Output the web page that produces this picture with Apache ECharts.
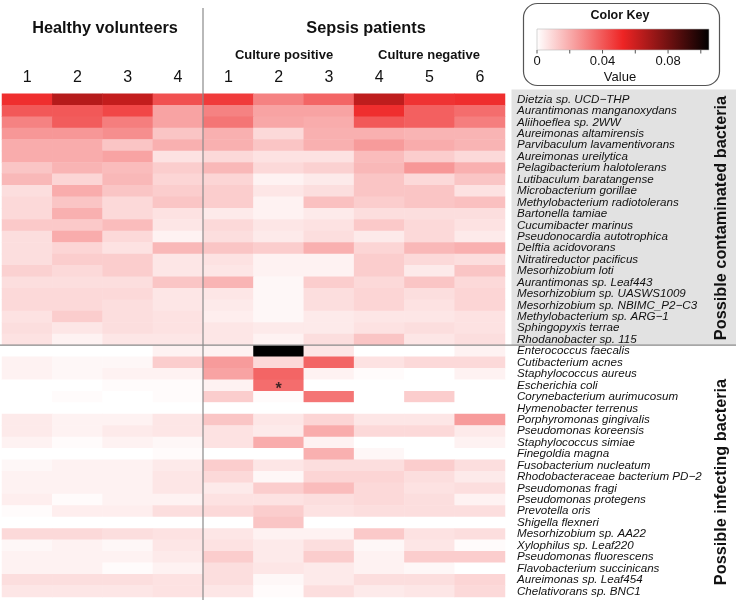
<!DOCTYPE html>
<html><head><meta charset="utf-8">
<script src="https://cdn.jsdelivr.net/npm/echarts@6/dist/echarts.min.js"></script>
<style>html,body{margin:0;padding:0;background:#fff}#c{width:736px;height:604px}</style>
</head><body><div id="c"></div>
<script>
var columns = ['HV1','HV2','HV3','HV4','S1','S2','S3','S4','S5','S6'];
var columnLabels = ['1','2','3','4','1','2','3','4','5','6'];
var contaminated = ['Dietzia sp. UCD\u2212THP','Aurantimonas manganoxydans','Aliihoeflea sp. 2WW','Aureimonas altamirensis','Parvibaculum lavamentivorans','Aureimonas ureilytica','Pelagibacterium halotolerans','Lutibaculum baratangense','Microbacterium gorillae','Methylobacterium radiotolerans','Bartonella tamiae','Cucumibacter marinus','Pseudonocardia autotrophica','Delftia acidovorans','Nitratireductor pacificus','Mesorhizobium loti','Aurantimonas sp. Leaf443','Mesorhizobium sp. UASWS1009','Mesorhizobium sp. NBIMC_P2\u2212C3','Methylobacterium sp. ARG\u22121','Sphingopyxis terrae','Rhodanobacter sp. 115'];
var infecting = ['Enterococcus faecalis','Cutibacterium acnes','Staphylococcus aureus','Escherichia coli','Corynebacterium aurimucosum','Hymenobacter terrenus','Porphyromonas gingivalis','Pseudomonas koreensis','Staphylococcus simiae','Finegoldia magna','Fusobacterium nucleatum','Rhodobacteraceae bacterium PD\u22122','Pseudomonas fragi','Pseudomonas protegens','Prevotella oris','Shigella flexneri','Mesorhizobium sp. AA22','Xylophilus sp. Leaf220','Pseudomonas fluorescens','Flavobacterium succinicans','Aureimonas sp. Leaf454','Chelativorans sp. BNC1'];
// values per row, columns HV1..HV4, S1..S6
var contaminatedValues = [
 [0.050,0.065,0.062,0.042,0.047,0.030,0.037,0.063,0.049,0.050],
 [0.040,0.040,0.044,0.022,0.030,0.022,0.022,0.050,0.038,0.035],
 [0.030,0.039,0.031,0.022,0.033,0.021,0.020,0.040,0.038,0.031],
 [0.025,0.025,0.027,0.014,0.019,0.009,0.019,0.019,0.018,0.018],
 [0.020,0.020,0.014,0.019,0.019,0.014,0.019,0.024,0.020,0.018],
 [0.020,0.020,0.022,0.007,0.009,0.007,0.007,0.016,0.012,0.009],
 [0.014,0.018,0.016,0.012,0.017,0.009,0.011,0.017,0.025,0.019],
 [0.017,0.010,0.017,0.010,0.010,0.003,0.005,0.014,0.009,0.014],
 [0.008,0.020,0.014,0.012,0.012,0.006,0.008,0.014,0.014,0.007],
 [0.009,0.014,0.009,0.014,0.012,0.003,0.015,0.012,0.014,0.015],
 [0.009,0.019,0.009,0.007,0.005,0.003,0.005,0.008,0.008,0.008],
 [0.013,0.013,0.016,0.006,0.009,0.006,0.007,0.013,0.009,0.007],
 [0.008,0.020,0.009,0.003,0.008,0.005,0.008,0.005,0.009,0.005],
 [0.008,0.010,0.007,0.017,0.014,0.012,0.019,0.010,0.017,0.019],
 [0.008,0.012,0.012,0.006,0.007,0.003,0.003,0.012,0.009,0.008],
 [0.011,0.009,0.012,0.006,0.006,0.003,0.003,0.012,0.005,0.014],
 [0.008,0.008,0.008,0.014,0.018,0.002,0.012,0.009,0.014,0.009],
 [0.009,0.009,0.009,0.006,0.006,0.002,0.008,0.010,0.008,0.010],
 [0.009,0.009,0.008,0.006,0.005,0.002,0.008,0.010,0.007,0.010],
 [0.007,0.012,0.008,0.007,0.004,0.002,0.005,0.006,0.006,0.007],
 [0.008,0.006,0.008,0.007,0.006,0.005,0.005,0.007,0.008,0.007],
 [0.007,0.003,0.006,0.006,0.006,0.003,0.008,0.014,0.006,0.008]
];
var infectingValues = [
 [0.000,0.000,0.000,0.003,0.003,0.105,0.006,0.000,0.000,0.003],
 [0.003,0.002,0.002,0.012,0.024,0.009,0.037,0.007,0.009,0.009],
 [0.003,0.002,0.003,0.003,0.022,0.037,0.003,0.001,0.000,0.003],
 [0.000,0.000,0.001,0.001,0.003,0.035,0.000,0.000,0.000,0.000],
 [0.000,0.001,0.000,0.001,0.012,0.001,0.033,0.000,0.012,0.000],
 [0.000,0.000,0.000,0.000,0.000,0.000,0.000,0.000,0.000,0.000],
 [0.005,0.003,0.003,0.006,0.014,0.006,0.010,0.006,0.006,0.024],
 [0.005,0.003,0.005,0.006,0.007,0.005,0.020,0.009,0.009,0.005],
 [0.003,0.001,0.003,0.002,0.007,0.020,0.003,0.000,0.000,0.003],
 [0.000,0.000,0.000,0.001,0.000,0.000,0.019,0.002,0.000,0.000],
 [0.002,0.003,0.003,0.005,0.012,0.006,0.008,0.008,0.012,0.008],
 [0.003,0.003,0.003,0.006,0.009,0.002,0.010,0.010,0.008,0.005],
 [0.003,0.003,0.003,0.006,0.005,0.012,0.016,0.009,0.007,0.008],
 [0.004,0.001,0.003,0.003,0.007,0.007,0.008,0.009,0.008,0.003],
 [0.001,0.004,0.004,0.008,0.009,0.012,0.007,0.008,0.008,0.008],
 [0.000,0.000,0.000,0.000,0.000,0.014,0.000,0.000,0.000,0.000],
 [0.009,0.009,0.008,0.007,0.006,0.003,0.003,0.013,0.007,0.008],
 [0.002,0.003,0.002,0.006,0.007,0.005,0.008,0.002,0.006,0.001],
 [0.003,0.003,0.003,0.005,0.012,0.005,0.012,0.003,0.012,0.012],
 [0.003,0.003,0.001,0.003,0.008,0.006,0.005,0.003,0.002,0.000],
 [0.008,0.008,0.008,0.007,0.008,0.002,0.005,0.008,0.008,0.010],
 [0.006,0.006,0.006,0.007,0.006,0.001,0.008,0.005,0.006,0.009]
];
var starCell = ['S2','Escherichia coli'];
var keyTicks = [0, 0.02, 0.04, 0.06, 0.08, 0.10];
var keyLabels = ['0','0.04','0.08'];
var valueMax = 0.105;

var rows = contaminated.concat(infecting);
var values = contaminatedValues.concat(infectingValues);
var data = [];
for (var r = 0; r < rows.length; r++) for (var c = 0; c < columns.length; c++) data.push([c, r, values[r][c]]);

var chart = echarts.init(document.getElementById('c'), null, {renderer:'canvas'});
var L = 2, R = 505, T = 93.8, B = 597;
var keyX0 = 537, keyX1 = 709;
function kx(v){ return keyX0 + (keyX1 - keyX0) * v / valueMax; }
var FONT = '"Liberation Sans", Arial, Helvetica, sans-serif';
var graphics = [
  {type:'rect', shape:{x:511.5, y:89.5, width:230, height:255.5}, style:{fill:'#e2e2e2'}, z:0},
  {type:'line', shape:{x1:0, y1:345.2, x2:736, y2:345.2}, style:{stroke:'#8a8a8a', lineWidth:1.2}, z:50},
  {type:'line', shape:{x1:203, y1:8, x2:203, y2:600}, style:{stroke:'#8a8a8a', lineWidth:1.2}, z:50},
  {type:'text', x:105, y:29, style:{text:'Healthy volunteers', font:'bold 16.3px '+FONT, fill:'#111', align:'center', verticalAlign:'middle'}},
  {type:'text', x:366, y:29, style:{text:'Sepsis patients', font:'bold 16.3px '+FONT, fill:'#111', align:'center', verticalAlign:'middle'}},
  {type:'text', x:284, y:55, style:{text:'Culture positive', font:'bold 13px '+FONT, fill:'#111', align:'center', verticalAlign:'middle'}},
  {type:'text', x:429, y:55, style:{text:'Culture negative', font:'bold 13px '+FONT, fill:'#111', align:'center', verticalAlign:'middle'}},
  {type:'text', x:722, y:218, rotation:Math.PI/2, style:{text:'Possible contaminated bacteria', font:'bold 16.3px '+FONT, fill:'#111', align:'center', verticalAlign:'middle'}},
  {type:'text', x:722, y:482, rotation:Math.PI/2, style:{text:'Possible infecting bacteria', font:'bold 16.3px '+FONT, fill:'#111', align:'center', verticalAlign:'middle'}},
  {type:'rect', shape:{x:523.5, y:3.5, width:196, height:82, r:14}, style:{fill:'#fff', stroke:'#555', lineWidth:1.2}},
  {type:'text', x:620, y:16, style:{text:'Color Key', font:'bold 12.5px '+FONT, fill:'#111', align:'center', verticalAlign:'middle'}},
  {type:'rect', shape:{x:keyX0, y:29, width:keyX1-keyX0, height:21}, style:{fill:new echarts.graphic.LinearGradient(0,0,1,0,[{offset:0,color:'#ffffff'},{offset:0.5,color:'#ee2424'},{offset:1,color:'#000000'}]), stroke:'#bbb', lineWidth:0.6}},
  {type:'text', x:620, y:77, style:{text:'Value', font:'13px '+FONT, fill:'#111', align:'center', verticalAlign:'middle'}}
];
keyTicks.forEach(function(t){
  graphics.push({type:'line', shape:{x1:kx(t), y1:50, x2:kx(t), y2:53.5}, style:{stroke:'#555', lineWidth:1}});
});
keyLabels.forEach(function(s){
  graphics.push({type:'text', x:kx(parseFloat(s)), y:61.5, style:{text:s, font:'13px '+FONT, fill:'#111', align:'center', verticalAlign:'middle'}});
});

chart.setOption({
  animation:false,
  backgroundColor:'#fff',
  grid:{left:L, right:736-R, top:T, bottom:604-B, containLabel:false},
  xAxis:{type:'category', data:columns, position:'top', axisLine:{show:false}, axisTick:{show:false}, splitLine:{show:false},
    axisLabel:{formatter:function(v,i){return columnLabels[i];}, fontFamily:FONT, fontSize:16, color:'#111', margin:8}},
  yAxis:{type:'category', data:rows, inverse:true, position:'right', axisLine:{show:false}, axisTick:{show:false}, splitLine:{show:false},
    axisLabel:{fontFamily:FONT, fontStyle:'italic', fontSize:11.6, color:'#111', align:'left', margin:12, interval:0}},
  visualMap:{show:false, type:'continuous', min:0, max:valueMax, dimension:2, inRange:{color:['#ffffff','#ee2424','#000000']}},
  series:[
    {type:'heatmap', data:data, itemStyle:{borderWidth:0}, emphasis:{disabled:true}, z:2},
    {type:'scatter', data:[[columns.indexOf(starCell[0]), rows.indexOf(starCell[1])]], symbolSize:0, z:5,
      label:{show:true, position:'inside', formatter:'*', fontSize:16, fontWeight:'bold', color:'#111', offset:[0,4]}}
  ],
  graphic:graphics
});
</script></body></html>
